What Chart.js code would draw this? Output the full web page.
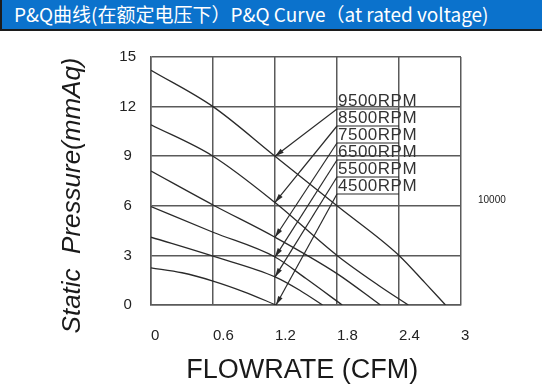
<!DOCTYPE html>
<html>
<head>
<meta charset="utf-8">
<script src="https://cdn.jsdelivr.net/npm/chart.js@4.4.1/dist/chart.umd.min.js"></script>
<style>
  html, body { margin: 0; padding: 0; background: #fff; }
  #wrap { position: relative; width: 542px; height: 392px; overflow: hidden; }
  #head {
    position: absolute; left: 0; top: 0; width: 542px; height: 31px; box-sizing: border-box;
    background: #0b72cc; border-left: 2px solid #1c1c1c; border-bottom: 2px solid #1c1c1c;
    color: #fff; font: 19px "Noto Sans CJK SC", sans-serif; line-height: 28px; padding-left: 12px;
    white-space: nowrap; z-index: 2;
  }
  canvas { position: absolute; left: 0; top: 0; }
</style>
</head>
<body>
<div id="wrap">
  <div id="head">P&amp;Q曲线(在额定电压下）P&amp;Q Curve（at rated voltage)</div>
  <canvas id="pq" width="542" height="392"></canvas>
</div>
<script>
const flowTicks = [0, 0.6, 1.2, 1.8, 2.4, 3];
const pressureTicks = [0, 3, 6, 9, 12, 15];
const rpmLabels = ['9500RPM', '8500RPM', '7500RPM', '6500RPM', '5500RPM', '4500RPM'];

// flow (CFM) / static pressure (mmAq)
const flow9500 = [0, 0.6, 1.2, 1.8, 2.4, 2.65, 2.85];
const pres9500 = [14.2, 12, 9, 6, 3, 1.35, 0];
const flow8500 = [0, 0.6, 1.2, 1.8, 2.2, 2.49];
const pres8500 = [10.9, 9, 6.2, 3, 1.2, 0];
const flow7500 = [0, 0.6, 1.2, 1.8, 2.22];
const pres7500 = [8.1, 6.05, 4.1, 1.9, 0];
const flow6500 = [0, 0.6, 1.2, 1.5, 1.85];
const pres6500 = [5.95, 4.4, 2.9, 1.6, 0];
const flow5500 = [0, 0.6, 1.2, 1.45, 1.66];
const pres5500 = [4.1, 2.95, 1.7, 0.85, 0];
const flow4500 = [0, 0.3, 0.6, 0.9, 1.21];
const pres4500 = [2.25, 1.95, 1.45, 0.8, 0];

const curves = [
  [flow9500, pres9500],
  [flow8500, pres8500],
  [flow7500, pres7500],
  [flow6500, pres6500],
  [flow5500, pres5500],
  [flow4500, pres4500]
];

const gridColor = '#5a5a5a';
const lineColor = '#2a2a2a';
const arrowAt = 1.2;

const callouts = {
  id: 'callouts',
  afterDatasetsDraw(chart) {
    const { ctx, chartArea, scales: { x } } = chart;
    const x0 = x.getPixelForValue(flowTicks[3]);
    const x1 = x.getPixelForValue(flowTicks[4]);
    const tipX = x.getPixelForValue(arrowAt);
    ctx.save();
    ctx.strokeStyle = lineColor;
    ctx.fillStyle = lineColor;
    ctx.lineWidth = 1.2;
    rpmLabels.forEach((label, i) => {
      const ty = chartArea.top + 44 + i * 17;
      const uy = ty + 8;
      // underline of the label box
      ctx.beginPath();
      ctx.moveTo(x0, uy);
      ctx.lineTo(x1, uy);
      ctx.stroke();
      // arrow to the curve point nearest 1.2 CFM
      const pts = chart.getDatasetMeta(i).data;
      let tip = pts[0];
      pts.forEach(p => { if (Math.abs(p.x - tipX) < Math.abs(tip.x - tipX)) tip = p; });
      ctx.beginPath();
      ctx.moveTo(x0, uy);
      ctx.lineTo(tip.x, tip.y);
      ctx.stroke();
      const ang = Math.atan2(tip.y - uy, tip.x - x0);
      ctx.beginPath();
      ctx.moveTo(tip.x, tip.y);
      ctx.lineTo(tip.x - 9 * Math.cos(ang) + 2.5 * Math.sin(ang), tip.y - 9 * Math.sin(ang) - 2.5 * Math.cos(ang));
      ctx.lineTo(tip.x - 9 * Math.cos(ang) - 2.5 * Math.sin(ang), tip.y - 9 * Math.sin(ang) + 2.5 * Math.cos(ang));
      ctx.closePath();
      ctx.fill();
    });
    ctx.fillStyle = '#333';
    ctx.font = '17px "Liberation Sans", Arial, sans-serif';
    ctx.letterSpacing = '0.5px';
    ctx.textBaseline = 'middle';
    ctx.textAlign = 'left';
    rpmLabels.forEach((label, i) => {
      ctx.fillText(label, x0 + 1, chartArea.top + 44 + i * 17);
    });
    ctx.letterSpacing = '0px';
    ctx.fillStyle = '#222';
    ctx.font = '10px "Liberation Sans", Arial, sans-serif';
    ctx.fillText('10000', chartArea.right + 17, chartArea.top + 143);
    ctx.restore();
  }
};

new Chart(document.getElementById('pq'), {
  type: 'line',
  data: {
    datasets: curves.map((c, i) => ({
      label: rpmLabels[i],
      data: c[0].map((f, j) => ({ x: f, y: c[1][j] })),
      borderColor: lineColor,
      borderWidth: 1.3,
      pointRadius: 0,
      fill: false,
      cubicInterpolationMode: 'monotone'
    }))
  },
  options: {
    responsive: false,
    animation: false,
    layout: { padding: { left: 0, top: 57, right: 81, bottom: 0 } },
    plugins: {
      legend: { display: false },
      tooltip: { enabled: false }
    },
    scales: {
      x: {
        type: 'linear',
        min: 0,
        max: 3,
        afterBuildTicks: s => { s.ticks = flowTicks.map(v => ({ value: v })); },
        afterFit: s => { s.height = 87; },
        grid: { color: gridColor, lineWidth: 1.5, drawTicks: false },
        border: { color: gridColor, width: 1.5 },
        ticks: {
          align: 'start',
          padding: 22,
          color: '#222',
          font: { family: '"Liberation Sans", Arial, sans-serif', size: 15 },
          callback: v => String(v)
        },
        title: {
          display: true,
          text: 'FLOWRATE (CFM) ',
          color: '#1a1a1a',
          font: { family: '"Liberation Sans", Arial, sans-serif', size: 27 },
          padding: { top: 0, bottom: 5 }
        }
      },
      y: {
        min: 0,
        max: 15,
        afterBuildTicks: s => { s.ticks = pressureTicks.map(v => ({ value: v })); },
        afterFit: s => { s.width = 151; },
        grid: { color: gridColor, lineWidth: 1.5, drawTicks: false },
        border: { color: gridColor, width: 1.5 },
        ticks: {
          crossAlign: 'center',
          padding: 15,
          color: '#222',
          font: { family: '"Liberation Sans", Arial, sans-serif', size: 15 },
          callback: v => String(v)
        },
        title: {
          display: true,
          text: 'Static  Pressure(mmAq)    ',
          color: '#1a1a1a',
          font: { family: '"Liberation Sans", Arial, sans-serif', size: 26, style: 'italic' },
          padding: { top: 57, bottom: 0 }
        }
      }
    }
  },
  plugins: [callouts]
});
</script>
</body>
</html>
